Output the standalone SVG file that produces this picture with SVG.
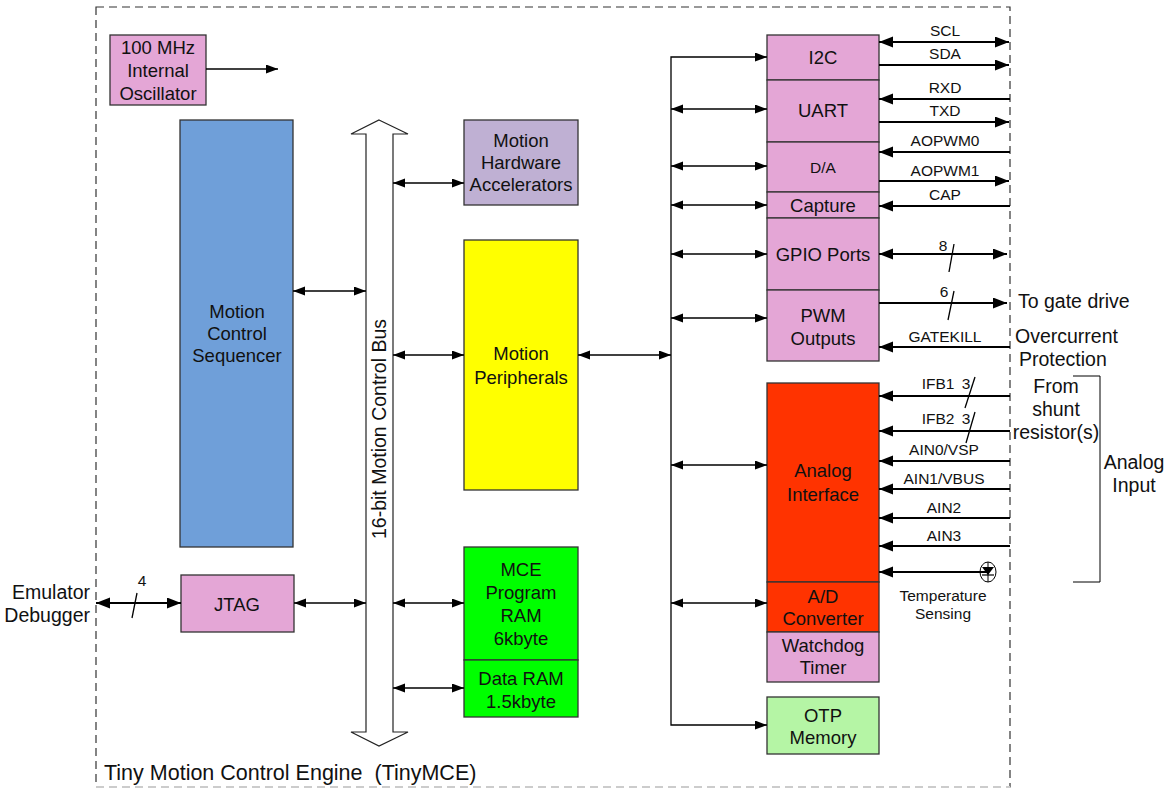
<svg xmlns="http://www.w3.org/2000/svg" width="1169" height="788" viewBox="0 0 1169 788">
<defs>
<marker id="a" markerUnits="userSpaceOnUse" markerWidth="13" markerHeight="10" refX="12" refY="4.5" orient="auto-start-reverse"><path d="M0,0 L12,4.5 L0,9 z" fill="#000"/></marker>
<marker id="b" markerUnits="userSpaceOnUse" markerWidth="16" markerHeight="12" refX="14" refY="5.5" orient="auto-start-reverse"><path d="M0,0 L14,5.5 L0,11 z" fill="#000"/></marker>
<style>
text{font-family:"Liberation Sans",Arial,sans-serif;fill:#111;text-anchor:middle;dominant-baseline:central}
.t{font-size:18.5px}
.s{font-size:15.5px}
.box{stroke:#333;stroke-width:1.3}
.pk{fill:#E4A6D6}
.thin{stroke:#000;stroke-width:1.3;fill:none}
.sig{stroke:#000;stroke-width:2;fill:none}
</style>
</defs>
<rect x="96" y="7" width="914" height="780" fill="none" stroke="#333" stroke-width="1.2" stroke-dasharray="8,5"/>
<line x1="96" y1="787" x2="1010" y2="787" stroke="#ccc" stroke-width="2" stroke-dasharray="8,5"/>
<text x="104" y="773" xml:space="preserve" style="font-size:21.5px;text-anchor:start">Tiny Motion Control Engine  (TinyMCE)</text>

<g id="osc"><rect class="box pk" x="110" y="35" width="96" height="70"/><text class="t" x="158" y="47">100 MHz</text><text class="t" x="158" y="70">Internal</text><text class="t" x="158" y="93">Oscillator</text></g>
<g id="seq"><rect class="box" fill="#6F9FD9" x="180" y="120" width="113" height="427"/><text class="t" x="237" y="311">Motion</text><text class="t" x="237" y="333">Control</text><text class="t" x="237" y="355">Sequencer</text></g>
<g id="jtag"><rect class="box pk" x="181" y="575" width="113" height="57"/><text class="t" x="237" y="604">JTAG</text></g>
<g id="bus"><path d="M379,120 L408,134 L393,134 L393,732 L408,732 L379,746 L351,732 L366,732 L366,134 L351,134 Z" fill="#fff" stroke="#222" stroke-width="1.2"/><text x="379" y="429" style="font-size:19.5px" transform="rotate(-90 379 429)">16-bit Motion Control Bus</text></g>
<g id="mha"><rect class="box" fill="#BFB0D3" x="464" y="120" width="114" height="85"/><text class="t" x="521" y="140">Motion</text><text class="t" x="521" y="162">Hardware</text><text class="t" x="521" y="184">Accelerators</text></g>
<g id="mp"><rect class="box" fill="#FFFF00" x="464" y="240" width="114" height="250"/><text class="t" x="521" y="353">Motion</text><text class="t" x="521" y="377">Peripherals</text></g>
<g id="mce"><rect class="box" fill="#00FF00" x="464" y="547" width="114" height="113"/><text class="t" x="521" y="569">MCE</text><text class="t" x="521" y="592">Program</text><text class="t" x="521" y="615">RAM</text><text class="t" x="521" y="638">6kbyte</text></g>
<g id="dram"><rect class="box" fill="#00FF00" x="464" y="660" width="114" height="57"/><text class="t" x="521" y="678">Data RAM</text><text class="t" x="521" y="701">1.5kbyte</text></g>

<g id="i2c"><rect class="box pk" x="767" y="35" width="112" height="45"/><text class="t" x="823" y="57">I2C</text></g>
<g id="uart"><rect class="box pk" x="767" y="80" width="112" height="62"/><text class="t" x="823" y="110">UART</text></g>
<g id="da"><rect class="box pk" x="767" y="142" width="112" height="50"/><text class="s" x="823" y="167">D/A</text></g>
<g id="cap"><rect class="box pk" x="767" y="192" width="112" height="26"/><text class="t" x="823" y="205">Capture</text></g>
<g id="gpio"><rect class="box pk" x="767" y="218" width="112" height="72"/><text class="t" x="823" y="254">GPIO Ports</text></g>
<g id="pwm"><rect class="box pk" x="767" y="290" width="112" height="71"/><text class="t" x="823" y="315">PWM</text><text class="t" x="823" y="338">Outputs</text></g>
<g id="ai"><rect class="box" fill="#FF3300" x="767" y="383" width="112" height="199"/><text class="t" x="823" y="470">Analog</text><text class="t" x="823" y="494">Interface</text></g>
<g id="adc"><rect class="box" fill="#FF3300" x="767" y="582" width="112" height="50"/><text class="t" x="823" y="596">A/D</text><text class="t" x="823" y="618">Converter</text></g>
<g id="wdt"><rect class="box pk" x="767" y="632" width="112" height="50"/><text class="t" x="823" y="645">Watchdog</text><text class="t" x="823" y="667">Timer</text></g>
<g id="otp"><rect class="box" fill="#B5F5A5" x="767" y="697" width="112" height="57"/><text class="t" x="823" y="715">OTP</text><text class="t" x="823" y="737">Memory</text></g>

<g id="connectors">
<line class="thin" x1="206" y1="69" x2="278" y2="69" marker-end="url(#a)"/>
<line class="thin" x1="293" y1="291" x2="366" y2="291" marker-start="url(#a)" marker-end="url(#a)"/>
<line class="thin" x1="294" y1="603" x2="366" y2="603" marker-start="url(#a)" marker-end="url(#a)"/>
<line class="thin" x1="393" y1="183" x2="464" y2="183" marker-start="url(#a)" marker-end="url(#a)"/>
<line class="thin" x1="393" y1="355" x2="464" y2="355" marker-start="url(#a)" marker-end="url(#a)"/>
<line class="thin" x1="393" y1="603" x2="464" y2="603" marker-start="url(#a)" marker-end="url(#a)"/>
<line class="thin" x1="393" y1="688" x2="464" y2="688" marker-start="url(#a)" marker-end="url(#a)"/>
<line class="thin" x1="578" y1="355" x2="671" y2="355" marker-start="url(#a)" marker-end="url(#a)"/>
<path class="thin" d="M767,57 L671,57 L671,725 L767,725" marker-start="url(#a)" marker-end="url(#a)"/>
<line class="thin" x1="671" y1="109" x2="767" y2="109" marker-start="url(#a)" marker-end="url(#a)"/>
<line class="thin" x1="671" y1="166" x2="767" y2="166" marker-start="url(#a)" marker-end="url(#a)"/>
<line class="thin" x1="671" y1="205" x2="767" y2="205" marker-start="url(#a)" marker-end="url(#a)"/>
<line class="thin" x1="671" y1="254" x2="767" y2="254" marker-start="url(#a)" marker-end="url(#a)"/>
<line class="thin" x1="671" y1="318" x2="767" y2="318" marker-start="url(#a)" marker-end="url(#a)"/>
<line class="thin" x1="671" y1="465" x2="767" y2="465" marker-start="url(#a)" marker-end="url(#a)"/>
<line class="thin" x1="671" y1="603" x2="767" y2="603" marker-start="url(#a)" marker-end="url(#a)"/>

<line class="sig" x1="96" y1="603" x2="181" y2="603" marker-start="url(#b)" marker-end="url(#b)"/>
<line class="thin" x1="137" y1="593" x2="132" y2="618"/>

<line class="sig" x1="879" y1="42" x2="1009" y2="42" marker-start="url(#b)" marker-end="url(#b)"/>
<line class="sig" x1="879" y1="65" x2="1009" y2="65" marker-end="url(#b)"/>
<line class="sig" x1="879" y1="99" x2="1010" y2="99" marker-start="url(#b)"/>
<line class="sig" x1="879" y1="122" x2="1009" y2="122" marker-end="url(#b)"/>
<line class="sig" x1="879" y1="152" x2="1010" y2="152" marker-start="url(#b)"/>
<line class="sig" x1="879" y1="181" x2="1009" y2="181" marker-end="url(#b)"/>
<line class="sig" x1="879" y1="206" x2="1010" y2="206" marker-start="url(#b)"/>
<line class="sig" x1="879" y1="254" x2="1007" y2="254" marker-start="url(#b)" marker-end="url(#b)"/>
<line class="thin" x1="954" y1="244" x2="949" y2="272"/>
<line class="sig" x1="879" y1="303" x2="1007" y2="303" marker-end="url(#b)"/>
<line class="thin" x1="954" y1="291" x2="948" y2="320"/>
<line class="sig" x1="879" y1="347" x2="1010" y2="347" marker-start="url(#b)"/>
<line class="sig" x1="879" y1="396" x2="1010" y2="396" marker-start="url(#b)"/>
<line class="thin" x1="975" y1="377" x2="965" y2="408"/>
<line class="sig" x1="879" y1="431" x2="1010" y2="431" marker-start="url(#b)"/>
<line class="thin" x1="975" y1="412" x2="966" y2="443"/>
<line class="sig" x1="879" y1="461" x2="1010" y2="461" marker-start="url(#b)"/>
<line class="sig" x1="879" y1="489" x2="1010" y2="489" marker-start="url(#b)"/>
<line class="sig" x1="879" y1="518" x2="1010" y2="518" marker-start="url(#b)"/>
<line class="sig" x1="879" y1="546" x2="1010" y2="546" marker-start="url(#b)"/>
<line class="sig" x1="879" y1="572" x2="988" y2="572" marker-start="url(#b)"/>
<ellipse cx="988" cy="572" rx="8" ry="10" fill="none" stroke="#000" stroke-width="1"/>
<path d="M982,567 L994,567 L988,575 Z" fill="#000"/>
<line x1="982" y1="575" x2="994" y2="575" stroke="#000" stroke-width="1.2"/>
<line x1="988" y1="562" x2="988" y2="582" stroke="#000" stroke-width="1"/>
<path d="M1073,376 L1100,376 L1100,582 L1073,582" fill="none" stroke="#000" stroke-width="1"/>
</g>

<g id="labels">
<text class="s" x="945" y="30">SCL</text>
<text class="s" x="945" y="53">SDA</text>
<text class="s" x="945" y="87">RXD</text>
<text class="s" x="945" y="110">TXD</text>
<text class="s" x="945" y="140">AOPWM0</text>
<text class="s" x="945" y="170">AOPWM1</text>
<text class="s" x="945" y="194">CAP</text>
<text class="s" x="943" y="245">8</text>
<text class="s" x="944" y="291">6</text>
<text class="s" x="945" y="336">GATEKILL</text>
<text class="s" x="938" y="383">IFB1</text>
<text class="s" x="966" y="383">3</text>
<text class="s" x="938" y="418">IFB2</text>
<text class="s" x="966" y="418">3</text>
<text class="s" x="944" y="449">AIN0/VSP</text>
<text class="s" x="944" y="478">AIN1/VBUS</text>
<text class="s" x="944" y="507">AIN2</text>
<text class="s" x="944" y="535">AIN3</text>
<text class="s" x="943" y="595">Temperature</text>
<text class="s" x="943" y="613">Sensing</text>
<text class="s" x="142" y="580">4</text>
<text class="t" x="90" y="592" style="text-anchor:end;font-size:19.5px">Emulator</text>
<text class="t" x="90" y="615" style="text-anchor:end;font-size:19.5px">Debugger</text>
<text x="1018" y="301" style="text-anchor:start;font-size:19.5px">To gate drive</text>
<text x="1015" y="336" style="text-anchor:start;font-size:19.5px">Overcurrent</text>
<text x="1019" y="359" style="text-anchor:start;font-size:19.5px">Protection</text>
<text x="1056" y="386" style="font-size:19.5px">From</text>
<text x="1056" y="409" style="font-size:19.5px">shunt</text>
<text x="1056" y="432" style="font-size:19.5px">resistor(s)</text>
<text x="1134" y="462" style="font-size:19.5px">Analog</text>
<text x="1134" y="485" style="font-size:19.5px">Input</text>
</g>
</svg>
